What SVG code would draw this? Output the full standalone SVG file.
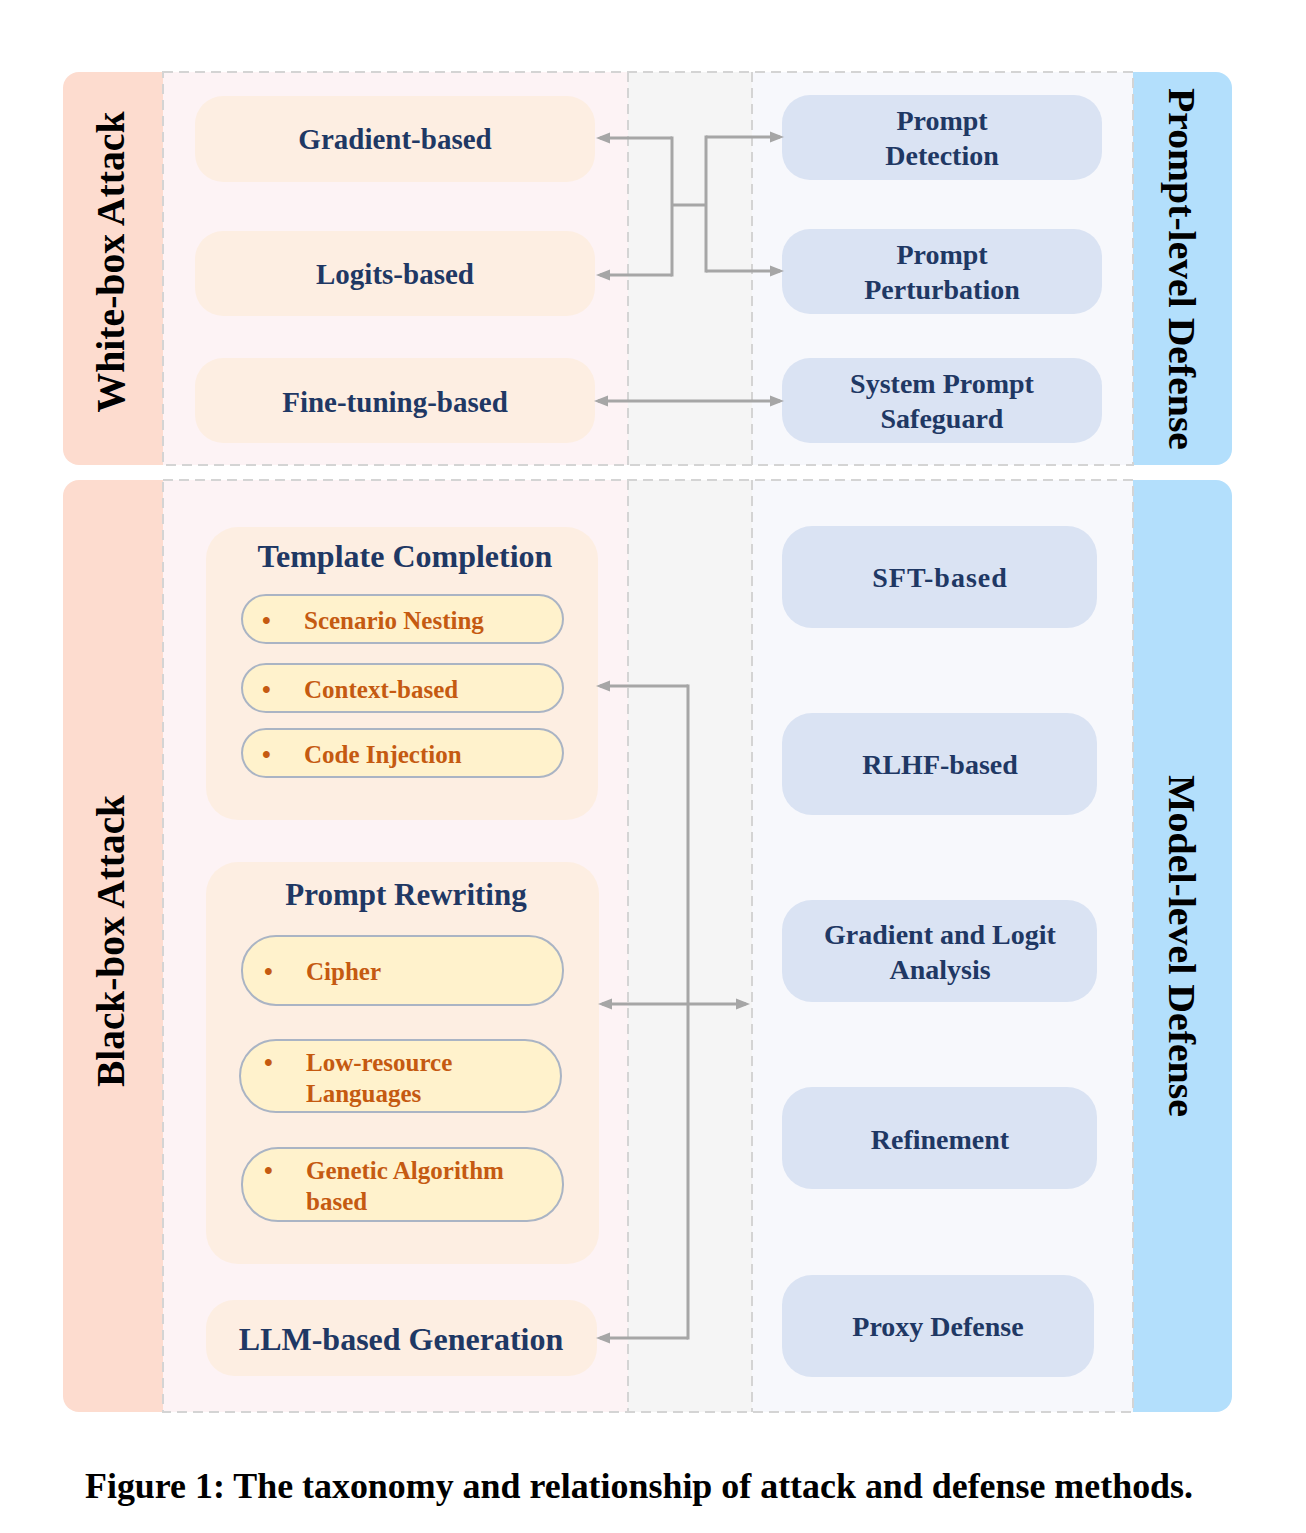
<svg xmlns="http://www.w3.org/2000/svg" width="1306" height="1533" viewBox="0 0 1306 1533">
<style>
text{font-family:"Liberation Serif","Times New Roman",serif;font-weight:bold;}
.nt{fill:#1f3864;font-size:28px;text-anchor:middle;}
.at{fill:#1f3864;font-size:29px;text-anchor:middle;}
.tt{fill:#1f3864;font-size:32px;text-anchor:middle;}
.pt{fill:#c55a11;font-size:25px;}
.lab{fill:#000;font-size:39px;text-anchor:middle;}
.anode{fill:#fdeee2;}
.dnode{fill:#dae3f3;}
.pill{fill:#fff2cc;stroke:#aab4c4;stroke-width:2;}
.dash{fill:none;stroke:#d4d4d4;stroke-width:2;stroke-dasharray:10 6;}
.conn{fill:none;stroke:#a6a6a6;stroke-width:3;}
.arr{marker-end:url(#ah);}
.dbl{marker-start:url(#ah);marker-end:url(#ah);}
</style>
<defs>
<marker id="ah" markerUnits="userSpaceOnUse" markerWidth="15" markerHeight="12" refX="10" refY="6" orient="auto-start-reverse">
<path d="M0,0.5 L14,6 L0,11.5 z" fill="#a6a6a6"/>
</marker>
</defs>
<rect width="1306" height="1533" fill="#ffffff"/>

<g id="background">
<rect x="63" y="72" width="120" height="393" rx="16" fill="#fddccf"/>
<rect x="1113" y="72" width="119" height="393" rx="16" fill="#b3dffc"/>
<rect x="163" y="72" width="465" height="393" fill="#fdf3f5"/>
<rect x="628" y="72" width="124" height="393" fill="#f5f5f5"/>
<rect x="752" y="72" width="381" height="393" fill="#f7f8fc"/>
<rect x="163" y="72" width="970" height="393" class="dash"/>
<line x1="628" y1="72" x2="628" y2="465" class="dash"/>
<line x1="752" y1="72" x2="752" y2="465" class="dash"/>
<rect x="63" y="480" width="120" height="932" rx="16" fill="#fddccf"/>
<rect x="1113" y="480" width="119" height="932" rx="16" fill="#b3dffc"/>
<rect x="163" y="480" width="465" height="932" fill="#fdf3f5"/>
<rect x="628" y="480" width="124" height="932" fill="#f5f5f5"/>
<rect x="752" y="480" width="381" height="932" fill="#f7f8fc"/>
<rect x="163" y="480" width="970" height="932" class="dash"/>
<line x1="628" y1="480" x2="628" y2="1412" class="dash"/>
<line x1="752" y1="480" x2="752" y2="1412" class="dash"/>
</g>

<g id="label-whitebox"><text class="lab" transform="translate(124,262) rotate(-90)" textLength="301" lengthAdjust="spacingAndGlyphs">White-box Attack</text></g>
<g id="label-blackbox"><text class="lab" transform="translate(124,941) rotate(-90)" textLength="292" lengthAdjust="spacingAndGlyphs">Black-box Attack</text></g>
<g id="label-promptdef"><text class="lab" transform="translate(1169,269) rotate(90)" textLength="362" lengthAdjust="spacingAndGlyphs" style="font-size:37px">Prompt-level Defense</text></g>
<g id="label-modeldef"><text class="lab" transform="translate(1169,946) rotate(90)" textLength="342" lengthAdjust="spacingAndGlyphs" style="font-size:37px">Model-level Defense</text></g>

<g id="n-gradient"><rect class="anode" x="195" y="96" width="400" height="86" rx="28"/><text class="at" x="395" y="149">Gradient-based</text></g>
<g id="n-logits"><rect class="anode" x="195" y="231" width="400" height="85" rx="28"/><text class="at" x="395" y="284">Logits-based</text></g>
<g id="n-finetune"><rect class="anode" x="195" y="358" width="400" height="85" rx="28"/><text class="at" x="395" y="412">Fine-tuning-based</text></g>

<g id="n-promptdet"><rect class="dnode" x="782" y="95" width="320" height="85" rx="28"/><text class="nt" x="942" y="130">Prompt</text><text class="nt" x="942" y="165">Detection</text></g>
<g id="n-promptpert"><rect class="dnode" x="782" y="229" width="320" height="85" rx="28"/><text class="nt" x="942" y="264">Prompt</text><text class="nt" x="942" y="299">Perturbation</text></g>
<g id="n-sysprompt"><rect class="dnode" x="782" y="358" width="320" height="85" rx="28"/><text class="nt" x="942" y="393">System Prompt</text><text class="nt" x="942" y="428">Safeguard</text></g>

<g id="n-template">
<rect class="anode" x="206" y="527" width="392" height="293" rx="32"/>
<text class="tt" x="405" y="567">Template Completion</text>
<rect class="pill" x="242" y="595" width="321" height="48" rx="24"/>
<text class="pt" x="262" y="629">•</text><text class="pt" x="304" y="629">Scenario Nesting</text>
<rect class="pill" x="242" y="664" width="321" height="48" rx="24"/>
<text class="pt" x="262" y="698">•</text><text class="pt" x="304" y="698">Context-based</text>
<rect class="pill" x="242" y="729" width="321" height="48" rx="24"/>
<text class="pt" x="262" y="763">•</text><text class="pt" x="304" y="763">Code Injection</text>
</g>

<g id="n-rewriting">
<rect class="anode" x="206" y="862" width="393" height="402" rx="32"/>
<text class="tt" x="406" y="905" style="font-size:31px">Prompt Rewriting</text>
<rect class="pill" x="242" y="936" width="321" height="69" rx="34"/>
<text class="pt" x="264" y="980">•</text><text class="pt" x="306" y="980">Cipher</text>
<rect class="pill" x="240" y="1040" width="321" height="72" rx="36"/>
<text class="pt" x="264" y="1071">•</text><text class="pt" x="306" y="1071">Low-resource</text><text class="pt" x="306" y="1102">Languages</text>
<rect class="pill" x="242" y="1148" width="321" height="73" rx="36"/>
<text class="pt" x="264" y="1179">•</text><text class="pt" x="306" y="1179">Genetic Algorithm</text><text class="pt" x="306" y="1210">based</text>
</g>

<g id="n-llmgen"><rect class="anode" x="206" y="1300" width="391" height="76" rx="28"/><text class="tt" x="401" y="1350">LLM-based Generation</text></g>

<g id="n-sft"><rect class="dnode" x="782" y="526" width="315" height="102" rx="30"/><text class="nt" x="940" y="587" letter-spacing="1">SFT-based</text></g>
<g id="n-rlhf"><rect class="dnode" x="782" y="713" width="315" height="102" rx="30"/><text class="nt" x="940" y="774">RLHF-based</text></g>
<g id="n-gradlogit"><rect class="dnode" x="782" y="900" width="315" height="102" rx="30"/><text class="nt" x="940" y="944">Gradient and Logit</text><text class="nt" x="940" y="979">Analysis</text></g>
<g id="n-refine"><rect class="dnode" x="782" y="1087" width="315" height="102" rx="30"/><text class="nt" x="940" y="1149">Refinement</text></g>
<g id="n-proxy"><rect class="dnode" x="782" y="1275" width="312" height="102" rx="30"/><text class="nt" x="938" y="1336">Proxy Defense</text></g>

<g id="connectors">
<path class="conn arr" d="M672,138 L600,138"/>
<path class="conn" d="M672,136.5 L672,276.5"/>
<path class="conn arr" d="M672,275 L600,275"/>
<path class="conn" d="M672,205 L706,205"/>
<path class="conn" d="M706,135.5 L706,272.5"/>
<path class="conn arr" d="M706,137 L780,137"/>
<path class="conn arr" d="M706,271 L780,271"/>
<path class="conn dbl" d="M598,401 L780,401"/>
<path class="conn" d="M688,684.5 L688,1339.5"/>
<path class="conn arr" d="M688,686 L600,686"/>
<path class="conn arr" d="M688,1338 L600,1338"/>
<path class="conn dbl" d="M602,1004 L746,1004"/>
</g>

<g id="caption"><text x="639" y="1498" text-anchor="middle" style="font-size:35px" fill="#000" textLength="1108" lengthAdjust="spacingAndGlyphs">Figure 1: The taxonomy and relationship of attack and defense methods.</text></g>
</svg>
